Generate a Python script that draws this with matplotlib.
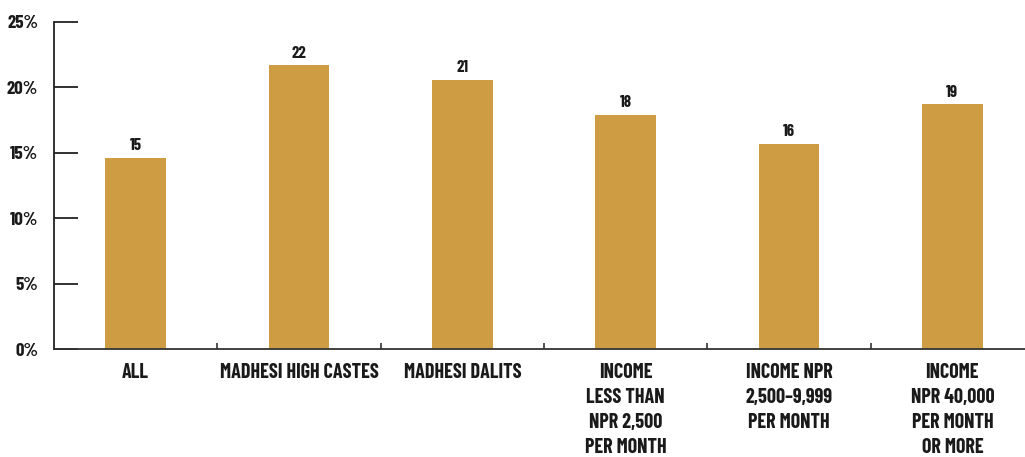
import matplotlib
matplotlib.use("Agg")
import matplotlib.pyplot as plt
from matplotlib.ticker import FixedLocator

# Share of respondents (%) by group
categories = [
    "ALL",
    "MADHESI HIGH CASTES",
    "MADHESI DALITS",
    "INCOME\nLESS THAN\nNPR 2,500\nPER MONTH",
    "INCOME NPR\n2,500\u20139,999\nPER MONTH",
    "INCOME\nNPR 40,000\nPER MONTH\nOR MORE",
]
values = [14.6, 21.7, 20.6, 17.9, 15.7, 18.7]
y_ticks = [0, 5, 10, 15, 20, 25]
y_tick_labels = ["0%", "5%", "10%", "15%", "20%", "25%"]

BAR_COLOR = "#CE9D43"
TEXT_COLOR = "#1a1a1a"
FONT = ["Barlow Condensed", "Roboto Condensed", "Archivo Narrow", "DejaVu Sans"]

plt.rcParams["font.family"] = FONT

fig = plt.figure(figsize=(10.25, 4.57), dpi=100)
ax = fig.add_axes([54 / 1025, 108 / 457, 980 / 1025, 327 / 457])

x = list(range(len(categories)))
bars = ax.bar(x, values, width=0.373, color=BAR_COLOR, zorder=2)

for xi, v in zip(x, values):
    ax.text(xi, v + 0.35, f"{round(v):d}", ha="center", va="bottom",
            fontsize=12, fontweight="bold", color=TEXT_COLOR)

ax.set_xlim(-0.5, len(categories) - 0.5)
ax.set_ylim(0, 25)

ax.set_yticks(y_ticks)
ax.set_yticklabels(y_tick_labels, fontsize=13.5, fontweight="bold", color=TEXT_COLOR)
ax.tick_params(axis="y", direction="in", length=17.5, width=1.3, color="#222222", pad=11.5)

ax.set_xticks(x)
ax.set_xticklabels(categories, fontsize=14.5, fontweight="bold", color=TEXT_COLOR,
                   linespacing=1.4, va="top")
ax.tick_params(axis="x", which="major", length=0, pad=10)
ax.xaxis.set_minor_locator(FixedLocator([i + 0.5 for i in range(len(categories) - 1)]))
ax.tick_params(axis="x", which="minor", direction="in", length=4.5, width=1.2, color="#333333")

for side in ("top", "right"):
    ax.spines[side].set_visible(False)
ax.spines["left"].set_linewidth(1.3)
ax.spines["left"].set_color("#222222")
ax.spines["bottom"].set_linewidth(1.3)
ax.spines["bottom"].set_color("#333333")

fig.savefig("out.png", dpi=100)
